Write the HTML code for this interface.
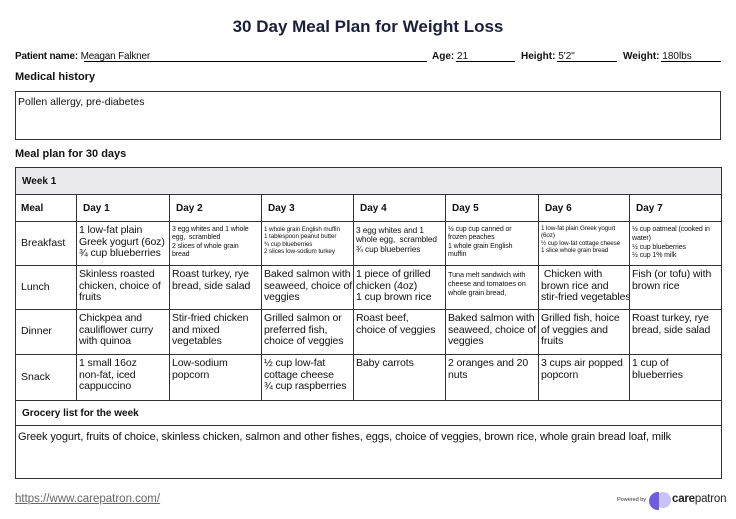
<!DOCTYPE html>
<html><head><meta charset="utf-8"><style>
*{margin:0;padding:0;box-sizing:border-box}
body{width:736px;height:519px;background:#fff;font-family:"Liberation Sans",Arial,sans-serif;color:#111;position:relative;overflow:hidden}
.a{position:absolute;white-space:nowrap}
.b{font-weight:bold}
.ul{position:absolute;border-bottom:1px solid #000;height:0}
table{position:absolute;left:15px;top:167px;width:706px;border-collapse:collapse;table-layout:fixed}
td{border:1px solid #333;vertical-align:top;padding:0 0 0 2px;overflow:hidden}
td>div{font-size:10.5px;line-height:11.6px;letter-spacing:-0.1px;overflow:hidden;padding-top:3px;white-space:nowrap}
td.m>div{padding-top:0;letter-spacing:0}
td.m{vertical-align:middle;padding-left:5px}
td.s>div{font-size:7px;line-height:8.3px;letter-spacing:-0.1px;padding-top:4px}
tr.h td{font-weight:bold;vertical-align:middle;padding-left:6px;font-size:10px}
</style></head><body>
<div class="a b" style="left:0;width:736px;text-align:center;top:17px;font-size:17px;color:#1b1f3b">30 Day Meal Plan for Weight Loss</div>
<div class="a" style="left:15px;top:51px;font-size:10px;letter-spacing:-0.2px"><b>Patient name:</b> Meagan Falkner</div>
<div class="ul" style="left:84px;width:343px;top:61px"></div>
<div class="a" style="left:432px;top:51px;font-size:10px"><b>Age:</b> 21</div>
<div class="ul" style="left:456px;width:59px;top:61px"></div>
<div class="a" style="left:521px;top:51px;font-size:10px"><b>Height:</b> 5'2"</div>
<div class="ul" style="left:557px;width:60px;top:61px"></div>
<div class="a" style="left:623px;top:51px;font-size:10px"><b>Weight:</b> 180lbs</div>
<div class="ul" style="left:661px;width:60px;top:61px"></div>
<div class="a b" style="left:15px;top:71px;font-size:11px">Medical history</div>
<div style="position:absolute;left:15px;top:91px;width:706px;height:49px;border:1px solid #333"></div>
<div class="a" style="left:18px;top:96px;font-size:10.5px">Pollen allergy, pre-diabetes</div>
<div class="a b" style="left:15px;top:148px;font-size:11px">Meal plan for 30 days</div>
<table>
<colgroup><col style="width:61px"><col style="width:93px"><col style="width:92px"><col style="width:92px"><col style="width:92px"><col style="width:93px"><col style="width:91px"><col style="width:92px"></colgroup>
<tr class="h" style="height:27px"><td colspan="8" style="background:#e9e9ee">Week 1</td></tr>
<tr class="h" style="height:27px"><td style="padding-left:5px">Meal</td><td>Day 1</td><td>Day 2</td><td>Day 3</td><td>Day 4</td><td>Day 5</td><td>Day 6</td><td>Day 7</td></tr>
<tr><td class="m"><div>Breakfast</div></td><td><div style="height:43px">1 low-fat plain<br>Greek yogurt (6oz)<br>¾ cup blueberries</div></td><td class="s"><div style="height:43px">3 egg whites and 1 whole<br>egg,&nbsp; scrambled<br>2 slices of whole grain<br>bread</div></td><td class="s"><div style="height:43px;font-size:6.3px;line-height:7.3px">1 whole grain English muffin<br>1 tablespoon peanut butter<br>¾ cup blueberries<br>2 slices low-sodium turkey</div></td><td class="s"><div style="height:43px;font-size:8.3px;line-height:9.3px">3 egg whites and 1<br>whole egg,&nbsp; scrambled<br>¾ cup blueberries</div></td><td class="s"><div style="height:43px">½ cup cup canned or<br>frozen peaches<br>1 whole grain English<br>muffin</div></td><td class="s"><div style="height:43px;font-size:6.3px;line-height:7.3px;padding-top:3px">1 low-fat plain Greek yogurt<br>(6oz)<br>½ cup low-fat cottage cheese<br>1 slice whole grain bread</div></td><td class="s"><div style="height:43px;line-height:8.8px">½ cup oatmeal (cooked in<br>water)<br>½ cup blueberries<br>½ cup 1% milk</div></td></tr>
<tr><td class="m"><div>Lunch</div></td><td><div style="height:43px">Skinless roasted<br>chicken, choice of<br>fruits</div></td><td><div style="height:43px">Roast turkey, rye<br>bread, side salad</div></td><td><div style="height:43px">Baked salmon with<br>seaweed, choice of<br>veggies</div></td><td><div style="height:43px">1 piece of grilled<br>chicken (4oz)<br>1 cup brown rice</div></td><td class="s"><div style="height:43px;font-size:7.3px;line-height:9px">Tuna melt sandwich with<br>cheese and tomatoes on<br>whole grain bread,</div></td><td><div style="height:43px">&nbsp;Chicken with<br>brown rice and<br>stir-fried vegetables</div></td><td><div style="height:43px">Fish (or tofu) with<br>brown rice</div></td></tr>
<tr><td class="m"><div>Dinner</div></td><td><div style="height:44px">Chickpea and<br>cauliflower curry<br>with quinoa</div></td><td><div style="height:44px">Stir-fried chicken<br>and mixed<br>vegetables</div></td><td><div style="height:44px">Grilled salmon or<br>preferred fish,<br>choice of veggies</div></td><td><div style="height:44px">Roast beef,<br>choice of veggies</div></td><td><div style="height:44px">Baked salmon with<br>seaweed, choice of<br>veggies</div></td><td><div style="height:44px">Grilled fish, hoice<br>of veggies and<br>fruits</div></td><td><div style="height:44px">Roast turkey, rye<br>bread, side salad</div></td></tr>
<tr><td class="m"><div>Snack</div></td><td><div style="height:45px">1 small 16oz<br>non-fat, iced<br>cappuccino</div></td><td><div style="height:45px">Low-sodium<br>popcorn</div></td><td><div style="height:45px">½ cup low-fat<br>cottage cheese<br>¾ cup raspberries</div></td><td><div style="height:45px">Baby carrots</div></td><td><div style="height:45px">2 oranges and 20<br>nuts</div></td><td><div style="height:45px">3 cups air popped<br>popcorn</div></td><td><div style="height:45px">1 cup of<br>blueberries</div></td></tr>
<tr class="h" style="height:25px"><td colspan="8">Grocery list for the week</td></tr>
<tr><td colspan="8"><div style="height:52px;font-size:11px;letter-spacing:-0.1px;padding-top:6px">Greek yogurt, fruits of choice, skinless chicken, salmon and other fishes, eggs, choice of veggies, brown rice, whole grain bread loaf, milk</div></td></tr>
</table>
<div class="a" style="left:15px;top:493px;font-size:11.5px;color:#666;text-decoration:underline">https://www.carepatron.com/</div>
<div class="a" style="left:617px;top:497px;font-size:5.5px;color:#333">Powered by</div>
<svg style="position:absolute;left:648px;top:491px" width="24" height="20"><circle cx="15" cy="9" r="8" fill="#c9c3f5"/><path d="M10 1a9 9 0 1 0 0 18h1V1z" fill="#6f5de0"/></svg>
<div class="a" style="left:672px;top:493px;font-size:11.5px;color:#222;letter-spacing:-0.2px"><b>care</b>patron</div>
</body></html>
